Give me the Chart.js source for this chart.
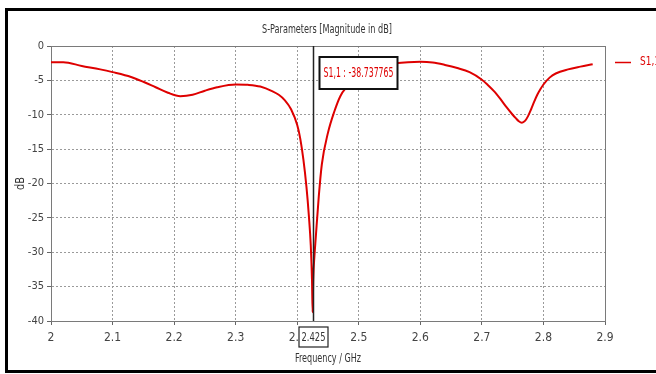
<!DOCTYPE html>
<html>
<head>
<meta charset="utf-8">
<script src="https://cdn.jsdelivr.net/npm/chart.js@4/dist/chart.umd.min.js"></script>
<style>
html,body{margin:0;padding:0;background:#fff;}
canvas{display:block;}
</style>
</head>
<body>
<canvas id="c" width="656" height="374"></canvas>
<script>
// ---- data ----
const freqGHz = [2.00,2.02,2.05,2.08,2.10,2.13,2.15,2.17,2.19,2.21,2.23,2.25,2.27,2.30,2.32,2.34,2.36,2.37,2.38,2.39,2.40,2.405,2.41,2.415,2.419,2.422,2.424,2.425,2.426,2.428,2.430,2.435,2.44,2.45,2.46,2.47,2.48,2.50,2.52,2.54,2.56,2.58,2.60,2.62,2.64,2.66,2.68,2.70,2.71,2.72,2.73,2.74,2.75,2.755,2.76,2.765,2.77,2.775,2.78,2.785,2.79,2.795,2.80,2.81,2.82,2.84,2.86,2.88];
const s11dB  = [-2.35,-2.35,-2.9,-3.4,-3.8,-4.5,-5.2,-6.0,-6.8,-7.3,-7.1,-6.5,-6.0,-5.6,-5.65,-5.9,-6.6,-7.1,-7.9,-9.2,-11.5,-13.5,-16.5,-20.5,-24.8,-29.0,-34.0,-38.74,-34.0,-30.5,-28.0,-21.9,-17.2,-12.6,-9.6,-7.3,-6.0,-4.3,-3.3,-2.8,-2.5,-2.35,-2.3,-2.4,-2.75,-3.2,-3.8,-4.9,-5.7,-6.6,-7.7,-8.9,-10.0,-10.5,-10.95,-11.15,-10.9,-10.2,-9.2,-8.1,-7.1,-6.3,-5.6,-4.6,-4.0,-3.4,-3.0,-2.65];
const xTicks = [2.0,2.1,2.2,2.3,2.4,2.5,2.6,2.7,2.8,2.9];
const yTicks = [0,-5,-10,-15,-20,-25,-30,-35,-40];
const seriesName = 'S1,1';
const markerFreq = 2.425;
const markerLabel = '2.425';
const markerValueText = 'S1,1 : -38.737765';
const chartTitle = 'S-Parameters [Magnitude in dB]';
const xTitle = 'Frequency / GHz';
const yTitle = 'dB';

const FONT = "'Liberation Sans Narrow','DejaVu Sans Condensed','Liberation Sans',sans-serif";
const RED = 'rgb(222,0,0)';

const points = freqGHz.map((f,i)=>({x:f, y:s11dB[i]}));

const decor = {
  id:'decor',
  beforeDatasetsDraw(chart){
    const {ctx, chartArea:a} = chart;
    ctx.save();
    ctx.strokeStyle = '#7a7a7a';
    ctx.lineWidth = 1;
    ctx.strokeRect(Math.round(a.left)+0.5, Math.round(a.top)+0.5, Math.round(a.right-a.left), Math.round(a.bottom-a.top));
    ctx.restore();
  },
  afterDraw(chart){
    const {ctx, chartArea:a, scales:{x:xs, y:ys}} = chart;
    ctx.save();
    const mx = Math.round(xs.getPixelForValue(markerFreq)) + 0.5;
    // marker line
    ctx.strokeStyle = '#222';
    ctx.lineWidth = 1.5;
    ctx.beginPath(); ctx.moveTo(mx, a.top); ctx.lineTo(mx, a.bottom); ctx.stroke();

    function txt(t, x, y, size, color, align, maxW){
      ctx.font = size + 'px ' + FONT;
      ctx.fillStyle = color;
      ctx.textAlign = align || 'center';
      ctx.textBaseline = 'middle';
      if (maxW) ctx.fillText(t, x, y, maxW); else ctx.fillText(t, x, y);
    }
    // value box
    const bx = mx + 6, by = a.top + 11, bw = 78, bh = 32;
    ctx.fillStyle = '#fff';
    ctx.fillRect(bx, by, bw, bh);
    ctx.strokeStyle = '#111'; ctx.lineWidth = 2;
    ctx.strokeRect(bx, by, bw, bh);
    txt(markerValueText, bx + bw/2, by + bh/2, 14, RED, 'center', bw - 8);
    // frequency box under axis
    const fw = 29, fh = 20, fx = mx - 14.5, fy = a.bottom + 6;
    ctx.fillStyle = '#fff'; ctx.fillRect(fx, fy, fw, fh);
    ctx.strokeStyle = '#222'; ctx.lineWidth = 1.2; ctx.strokeRect(fx, fy, fw, fh);
    txt(markerLabel, mx, fy + fh/2 + 1, 13, '#333', 'center', fw - 5);
    // titles
    const cx = (a.left + a.right)/2;
    txt(chartTitle, cx - 1, 30, 13, '#333', 'center', 130);
    txt(xTitle, cx, 359, 12, '#333', 'center', 66);
    ctx.save();
    ctx.translate(21, (a.top + a.bottom)/2);
    ctx.rotate(-Math.PI/2);
    txt(yTitle, 0, 0, 12, '#333', 'center', 13);
    ctx.restore();
    // legend
    ctx.strokeStyle = RED; ctx.lineWidth = 1.5;
    ctx.beginPath(); ctx.moveTo(a.right + 10, 62.5); ctx.lineTo(a.right + 26, 62.5); ctx.stroke();
    txt(seriesName, a.right + 35, 62, 13, RED, 'left', 20);
    // outer frame
    ctx.strokeStyle = '#000'; ctx.lineWidth = 3;
    ctx.beginPath();
    ctx.moveTo(700, 9.5); ctx.lineTo(6.5, 9.5); ctx.lineTo(6.5, 371.5); ctx.lineTo(700, 371.5);
    ctx.stroke();
    ctx.restore();
  }
};

new Chart(document.getElementById('c'), {
  type:'line',
  data:{ datasets:[{
    label: seriesName,
    data: points,
    borderColor: RED,
    borderWidth: 2,
    pointRadius: 0,
    cubicInterpolationMode: 'monotone',
    fill:false
  }]},
  options:{
    responsive:false,
    animation:false,
    devicePixelRatio:1,
    layout:{padding:{left:0, top:46, right:51, bottom:0}},
    plugins:{legend:{display:false}, title:{display:false}, tooltip:{enabled:false}},
    scales:{
      x:{
        type:'linear', min:2, max:2.9,
        afterBuildTicks(s){ s.ticks = xTicks.map(v=>({value:v})); },
        afterFit(s){ s.height = 53; },
        grid:{color:'#9a9a9a', tickColor:'#666', tickLength:4, lineWidth:1},
        border:{display:true, color:'#7a7a7a', dash:[2,2]},
        ticks:{color:'#444', font:{family:FONT, size:12}, padding:6, maxRotation:0, autoSkip:false,
          callback:(v)=> String(+(+v).toFixed(1))}
      },
      y:{
        type:'linear', min:-40, max:0,
        afterBuildTicks(s){ s.ticks = yTicks.map(v=>({value:v})); },
        afterFit(s){ s.width = 51; },
        grid:{color:'#9a9a9a', tickColor:'#666', tickLength:4, lineWidth:1},
        border:{display:true, color:'#7a7a7a', dash:[2,2]},
        ticks:{color:'#444', font:{family:FONT, size:11}, padding:3, autoSkip:false,
          callback:(v)=> String(v)}
      }
    }
  },
  plugins:[decor]
});
</script>
</body>
</html>
